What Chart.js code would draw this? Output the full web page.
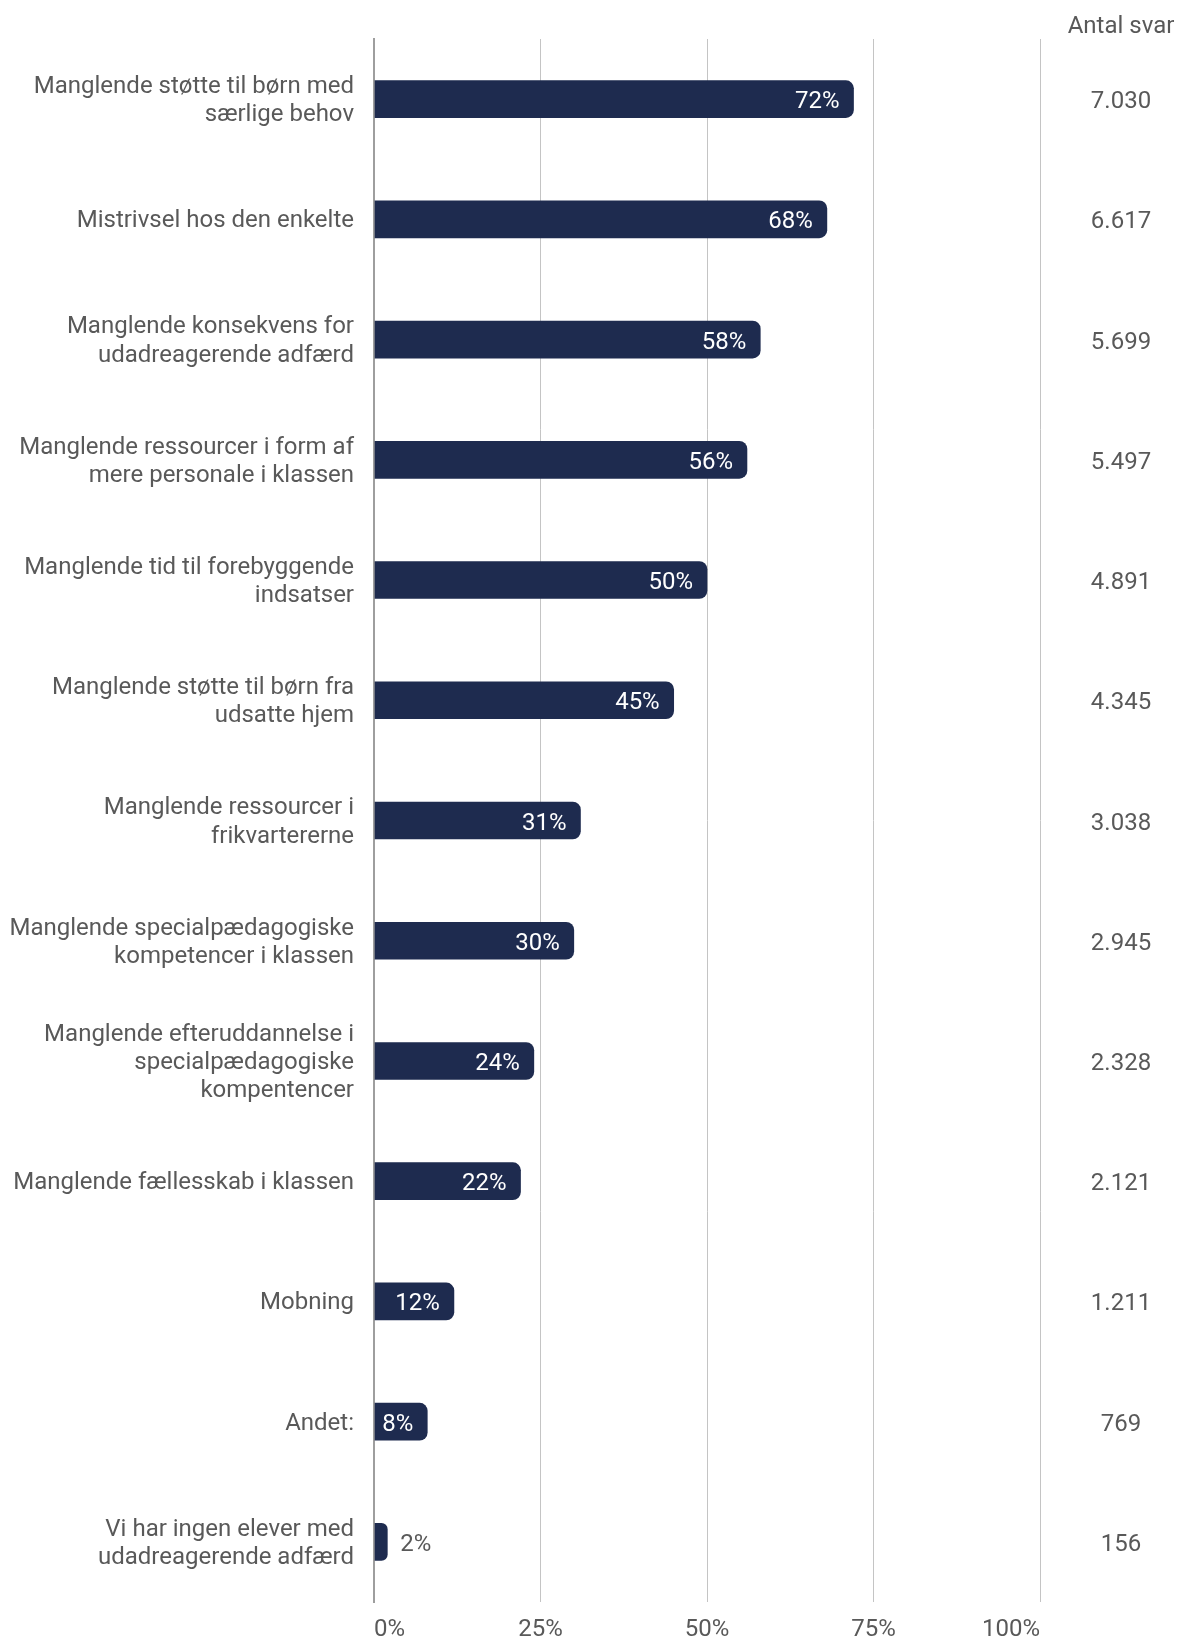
<!DOCTYPE html>
<html>
<head>
<meta charset="utf-8">
<script src="https://cdn.jsdelivr.net/npm/chart.js@4.4.1/dist/chart.umd.min.js"></script>
<style>
  html, body { margin: 0; padding: 0; background: #ffffff; }
  #wrap { width: 1177px; height: 1639px; position: relative; }
</style>
</head>
<body>
<div id="wrap"><canvas id="c"></canvas></div>
<script>
const categories = [
  ["Manglende støtte til børn med", "særlige behov"],
  "Mistrivsel hos den enkelte",
  ["Manglende konsekvens for", "udadreagerende adfærd"],
  ["Manglende ressourcer i form af", "mere personale i klassen"],
  ["Manglende tid til forebyggende", "indsatser"],
  ["Manglende støtte til børn fra", "udsatte hjem"],
  ["Manglende ressourcer i", "frikvartererne"],
  ["Manglende specialpædagogiske", "kompetencer i klassen"],
  ["Manglende efteruddannelse i", "specialpædagogiske", "kompentencer"],
  "Manglende fællesskab i klassen",
  "Mobning",
  "Andet:",
  ["Vi har ingen elever med", "udadreagerende adfærd"]
];
const percentValues = [72, 68, 58, 56, 50, 45, 31, 30, 24, 22, 12, 8, 2];
const antalSvar = ["7.030", "6.617", "5.699", "5.497", "4.891", "4.345", "3.038", "2.945", "2.328", "2.121", "1.211", "769", "156"];
const antalHeader = "Antal svar";
const xTicks = [0, 25, 50, 75, 100];

const FONT = "Roboto, 'Noto Sans', sans-serif";
const GREY = "#595959";
const NAVY = "#1e2b4f";
const TEXT_DY = 2;

const shiftYLabels = {
  id: 'shiftYLabels',
  beforeDraw(chart) {
    const items = chart.scales.y.getLabelItems(chart.chartArea);
    items.forEach(it => {
      if (!it._shifted) {
        it.options.translation[1] += TEXT_DY;
        it._shifted = true;
      }
    });
  }
};

const valueLabels = {
  id: 'valueLabels',
  afterDatasetsDraw(chart) {
    const ctx = chart.ctx;
    const meta = chart.getDatasetMeta(0);
    ctx.save();
    ctx.font = "24px " + FONT;
    ctx.textBaseline = 'middle';
    meta.data.forEach((bar, i) => {
      const txt = percentValues[i] + '%';
      const w = ctx.measureText(txt).width;
      const barW = bar.x - bar.base;
      if (barW >= w + 18) {
        ctx.fillStyle = '#ffffff';
        ctx.textAlign = 'right';
        ctx.fillText(txt, bar.x - 14, bar.y + 1 + TEXT_DY);
      } else {
        ctx.fillStyle = GREY;
        ctx.textAlign = 'left';
        ctx.fillText(txt, bar.x + 13, bar.y + 1 + TEXT_DY);
      }
    });
    ctx.restore();
  }
};

const rightColumn = {
  id: 'rightColumn',
  afterDraw(chart) {
    const ctx = chart.ctx;
    const y = chart.scales.y;
    ctx.save();
    ctx.fillStyle = GREY;
    ctx.font = "24px " + FONT;
    ctx.textBaseline = 'middle';
    ctx.textAlign = 'center';
    const cx = 1121;
    ctx.fillText(antalHeader, cx, 27);
    antalSvar.forEach((s, i) => {
      ctx.fillText(s, cx, y.getPixelForValue(i) + 1 + TEXT_DY);
    });
    ctx.restore();
  }
};

new Chart(document.getElementById('c'), {
  type: 'bar',
  data: {
    labels: categories,
    datasets: [{
      data: percentValues,
      backgroundColor: NAVY,
      borderRadius: 8,
      borderSkipped: 'start',
      barThickness: 37
    }]
  },
  options: {
    indexAxis: 'y',
    responsive: true,
    maintainAspectRatio: false,
    animation: false,
    layout: { padding: { top: 39, right: 137, left: 0, bottom: 0 } },
    plugins: { legend: { display: false }, tooltip: { enabled: false } },
    scales: {
      x: {
        min: 0, max: 100,
        afterBuildTicks(scale) { scale.ticks = xTicks.map(v => ({ value: v })); },
        afterFit(scale) { scale.height = 37; scale.paddingLeft = 0; scale.paddingRight = 0; },
        ticks: {
          callback: v => v + '%',
          align: 'inner',
          maxRotation: 0,
          padding: 14,
          color: GREY,
          font: { family: FONT, size: 24 }
        },
        grid: {
          color: ctx => ctx.tick && ctx.tick.value === 0 ? '#9e9e9e' : '#c4c4c4',
          lineWidth: ctx => ctx.tick && ctx.tick.value === 0 ? 2 : 1,
          drawTicks: false
        },
        border: { display: false }
      },
      y: {
        afterFit(scale) { scale.width = 374; scale.paddingTop = 0; scale.paddingBottom = 0; },
        ticks: {
          autoSkip: false,
          padding: 20,
          color: GREY,
          font: { family: FONT, size: 24, lineHeight: 1.175 }
        },
        grid: { display: false, drawTicks: false },
        border: { display: true, color: '#9e9e9e', width: 2 }
      }
    }
  },
  plugins: [shiftYLabels, valueLabels, rightColumn]
});
</script>
</body>
</html>
